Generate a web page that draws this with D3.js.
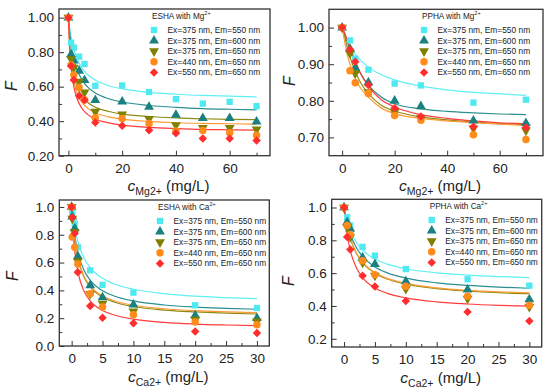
<!DOCTYPE html>
<html>
<head>
<meta charset="utf-8">
<script src="https://cdn.jsdelivr.net/npm/d3@7"></script>
<style>
  body { margin: 0; background: #fff; }
  svg { display: block; font-family: "Liberation Sans", Arial, sans-serif; }
  .tick text { font-size: 13.5px; fill: #222; }
</style>
</head>
<body>
<svg width="550" height="392"></svg>
<script>
// legend entries, same for all four panels
var seriesNames = ['Ex=375 nm, Em=550 nm', 'Ex=375 nm, Em=600 nm', 'Ex=375 nm, Em=650 nm',
                   'Ex=440 nm, Em=650 nm', 'Ex=550 nm, Em=650 nm'];

// ESHA with Mg2+
var esMgX = [0, 1, 2, 4, 6, 10, 20, 30, 40, 50, 60, 70];
var esMgF = [
  [1.00, 0.855, 0.826, 0.774, 0.731, 0.605, 0.607, 0.569, 0.528, 0.502, 0.512, 0.487],
  [1.00, 0.787, 0.750, 0.692, 0.638, 0.522, 0.513, 0.482, 0.436, 0.417, 0.417, 0.397],
  [1.00, 0.760, 0.710, 0.630, 0.567, 0.455, 0.440, 0.413, 0.378, 0.362, 0.362, 0.352],
  [1.00, 0.725, 0.667, 0.595, 0.524, 0.420, 0.416, 0.387, 0.343, 0.346, 0.333, 0.319],
  [1.00, 0.720, 0.638, 0.547, 0.522, 0.393, 0.373, 0.348, 0.330, 0.300, 0.300, 0.288]
];
var esMgFitX = [0, 0.5, 1, 2, 3, 5, 7, 10, 15, 20, 30, 40, 50, 60, 70];
var esMgFit = [
  [1, 0.936, 0.887, 0.817, 0.770, 0.709, 0.672, 0.638, 0.605, 0.587, 0.567, 0.556, 0.549, 0.545, 0.541],
  [1, 0.913, 0.850, 0.764, 0.708, 0.640, 0.600, 0.563, 0.530, 0.511, 0.491, 0.480, 0.473, 0.469, 0.466],
  [1, 0.860, 0.773, 0.670, 0.611, 0.546, 0.511, 0.481, 0.456, 0.441, 0.427, 0.419, 0.414, 0.411, 0.409],
  [1, 0.837, 0.740, 0.633, 0.573, 0.510, 0.477, 0.449, 0.425, 0.412, 0.399, 0.391, 0.387, 0.385, 0.383],
  [1, 0.818, 0.715, 0.601, 0.540, 0.475, 0.441, 0.413, 0.390, 0.377, 0.364, 0.357, 0.352, 0.350, 0.348]
];

// PPHA with Mg2+
var ppMgX = [0, 3, 5, 10, 20, 30, 50, 70];
var ppMgF = [
  [1.00, 0.965, 0.915, 0.885, 0.847, 0.842, 0.795, 0.803],
  [1.00, 0.942, 0.890, 0.850, 0.800, 0.785, 0.746, 0.739],
  [1.00, 0.930, 0.875, 0.824, 0.770, 0.753, 0.725, 0.719],
  [1.00, 0.882, 0.849, 0.820, 0.760, 0.747, 0.707, 0.694],
  [1.00, 0.940, 0.907, 0.843, 0.780, 0.757, 0.729, 0.727]
];
var ppMgFitX = [0, 0.5, 1, 2, 3, 5, 7, 10, 15, 20, 30, 40, 50, 60, 70];
var ppMgFit = [
  [1, 0.990, 0.980, 0.963, 0.949, 0.927, 0.911, 0.892, 0.871, 0.857, 0.840, 0.830, 0.823, 0.819, 0.815],
  [1, 0.990, 0.980, 0.960, 0.940, 0.905, 0.875, 0.843, 0.810, 0.792, 0.778, 0.771, 0.767, 0.764, 0.762],
  [1, 0.988, 0.975, 0.945, 0.920, 0.880, 0.850, 0.820, 0.787, 0.772, 0.756, 0.748, 0.742, 0.738, 0.735],
  [1, 0.980, 0.960, 0.925, 0.900, 0.860, 0.835, 0.810, 0.780, 0.765, 0.752, 0.745, 0.740, 0.736, 0.733],
  [1, 0.993, 0.985, 0.965, 0.945, 0.910, 0.875, 0.840, 0.802, 0.783, 0.762, 0.752, 0.745, 0.740, 0.737]
];

// ESHA with Ca2+
var esCaX = [0, 0.1, 0.5, 1, 3, 5, 10, 20, 30];
var esCaF = [
  [1.00, 0.960, 0.880, 0.710, 0.544, 0.440, 0.384, 0.293, 0.273],
  [1.00, 0.930, 0.845, 0.645, 0.436, 0.350, 0.297, 0.220, 0.200],
  [1.00, 0.916, 0.820, 0.610, 0.376, 0.305, 0.250, 0.190, 0.178],
  [1.00, 0.784, 0.710, 0.590, 0.376, 0.280, 0.225, 0.173, 0.153],
  [1.00, 0.925, 0.810, 0.530, 0.288, 0.204, 0.163, 0.105, 0.093]
];
var caFitX = [0, 0.25, 0.5, 1, 2, 3, 5, 7, 10, 15, 20, 25, 30];
var esCaFit = [
  [1, 0.915, 0.849, 0.752, 0.633, 0.564, 0.487, 0.444, 0.408, 0.376, 0.358, 0.348, 0.340],
  [1, 0.882, 0.796, 0.678, 0.545, 0.474, 0.397, 0.358, 0.324, 0.295, 0.280, 0.271, 0.264],
  [1, 0.860, 0.761, 0.633, 0.496, 0.425, 0.352, 0.315, 0.284, 0.258, 0.245, 0.236, 0.230],
  [1, 0.862, 0.765, 0.637, 0.502, 0.433, 0.360, 0.324, 0.293, 0.268, 0.254, 0.246, 0.240],
  [1, 0.810, 0.688, 0.539, 0.395, 0.325, 0.256, 0.221, 0.193, 0.170, 0.158, 0.151, 0.146]
];

// PPHA with Ca2+
var ppCaX = [0, 0.5, 1, 3, 5, 10, 20, 30];
var ppCaF = [
  [1.00, 0.940, 0.890, 0.760, 0.707, 0.625, 0.563, 0.524],
  [1.00, 0.910, 0.870, 0.695, 0.655, 0.550, 0.500, 0.440],
  [1.00, 0.880, 0.820, 0.665, 0.585, 0.505, 0.445, 0.395],
  [1.00, 0.890, 0.835, 0.675, 0.590, 0.520, 0.460, 0.405],
  [1.00, 0.820, 0.744, 0.584, 0.518, 0.430, 0.364, 0.309]
];
var ppCaFit = [
  [1, 0.955, 0.919, 0.862, 0.787, 0.741, 0.686, 0.655, 0.627, 0.602, 0.588, 0.579, 0.573],
  [1, 0.949, 0.906, 0.840, 0.755, 0.702, 0.638, 0.602, 0.570, 0.541, 0.525, 0.515, 0.508],
  [1, 0.938, 0.888, 0.813, 0.720, 0.664, 0.600, 0.564, 0.533, 0.506, 0.491, 0.481, 0.475],
  [1, 0.938, 0.889, 0.815, 0.723, 0.667, 0.604, 0.568, 0.538, 0.510, 0.495, 0.486, 0.480],
  [1, 0.906, 0.837, 0.740, 0.633, 0.573, 0.510, 0.477, 0.449, 0.425, 0.412, 0.404, 0.399]
];

// tick values
var mgXMajor = [0, 20, 40, 60], mgXMinor = [10, 30, 50, 70];
var caXMajor = [0, 5, 10, 15, 20, 25, 30], caXMinor = [2.5, 7.5, 12.5, 17.5, 22.5, 27.5];
var esMgYMajor = [0.2, 0.4, 0.6, 0.8, 1.0], esMgYMinor = [0.3, 0.5, 0.7, 0.9];
var ppMgYMajor = [0.7, 0.8, 0.9, 1.0], ppMgYMinor = [0.75, 0.85, 0.95];
var esCaYMajor = [0, 0.2, 0.4, 0.6, 0.8, 1.0], esCaYMinor = [0.1, 0.3, 0.5, 0.7, 0.9];
var ppCaYMajor = [0.2, 0.4, 0.6, 0.8, 1.0], ppCaYMinor = [0.3, 0.5, 0.7, 0.9];

var markColors = ['#4fe9f2', '#1b8080', '#808000', '#ff8c1a', '#ff2d2d'];
var lineColors = ['#5ef0f5', '#2a8f8f', '#8c8c14', '#ff9933', '#ff3b3b'];

var svg = d3.select('svg');

var shapes = [
  {type: d3.symbolSquare, size: 40, rot: 0},
  {type: d3.symbolTriangle, size: 42, rot: 0},
  {type: d3.symbolTriangle, size: 42, rot: 180},
  {type: d3.symbolCircle, size: 44, rot: 0},
  {type: d3.symbolSquare, size: 36, rot: 45}
];

function marker(g, i, cx, cy) {
  g.append('path')
    .attr('d', d3.symbol().type(shapes[i].type).size(shapes[i].size)())
    .attr('transform', `translate(${cx},${cy}) rotate(${shapes[i].rot})`)
    .attr('fill', markColors[i]);
}

var panels = [
  {box: [59, 9, 270, 155.7], xDom: [-3.5, 75], yDom: [0.2, 1.05], xMaj: mgXMajor, xMin: mgXMinor,
   yMaj: esMgYMajor, yMin: esMgYMinor, fmt: '.2f', xs: esMgX, F: esMgF, fitX: esMgFitX, fit: esMgFit,
   name: 'ESHA with Mg', ion: 'Mg2+', leg: [154, 30], fPos: [11, 86]},
  {box: [329, 9.3, 543, 155.7], xDom: [-5, 76.5], yDom: [0.65, 1.05], xMaj: mgXMajor, xMin: mgXMinor,
   yMaj: ppMgYMajor, yMin: ppMgYMinor, fmt: '.2f', xs: ppMgX, F: ppMgF, fitX: ppMgFitX, fit: ppMgFit,
   name: 'PPHA with Mg', ion: 'Mg2+', leg: [424, 30], fPos: [289, 81]},
  {box: [59.3, 200, 269.3, 346], xDom: [-2, 32], yDom: [0, 1.05], xMaj: caXMajor, xMin: caXMinor,
   yMaj: esCaYMajor, yMin: esCaYMinor, fmt: '.1f', xs: esCaX, F: esCaF, fitX: caFitX, fit: esCaFit,
   name: 'ESHA with Ca', ion: 'Ca2+', leg: [160, 221], fPos: [12.5, 276]},
  {box: [331.7, 199.3, 541.7, 347], xDom: [-2, 32], yDom: [0.15, 1.05], xMaj: caXMajor, xMin: caXMinor,
   yMaj: ppCaYMajor, yMin: ppCaYMinor, fmt: '.1f', xs: ppCaX, F: ppCaF, fitX: caFitX, fit: ppCaFit,
   name: 'PPHA with Ca', ion: 'Ca2+', leg: [431.7, 220], fPos: [288, 281]}
];

panels.forEach(function (p, pi) {
  var l = p.box[0], t = p.box[1], r = p.box[2], b = p.box[3];
  var x = d3.scaleLinear().domain(p.xDom).range([l, r]);
  var y = d3.scaleLinear().domain(p.yDom).range([b, t]);
  var g = svg.append('g');

  g.append('clipPath').attr('id', 'clip' + pi)
    .append('rect').attr('x', l).attr('y', t).attr('width', r - l).attr('height', b - t);

  // axes, ticks pointing inward
  g.append('g').attr('transform', `translate(0,${b})`)
    .call(d3.axisBottom(x).tickValues(p.xMaj).tickSize(-5).tickSizeOuter(0).tickPadding(7.5).tickFormat(d3.format('d')));
  g.append('g').attr('transform', `translate(0,${b})`)
    .call(d3.axisBottom(x).tickValues(p.xMin).tickSize(-3).tickSizeOuter(0).tickFormat(''));
  g.append('g').attr('transform', `translate(${l},0)`)
    .call(d3.axisLeft(y).tickValues(p.yMaj).tickSize(-5).tickSizeOuter(0).tickPadding(5).tickFormat(d3.format(p.fmt)));
  g.append('g').attr('transform', `translate(${l},0)`)
    .call(d3.axisLeft(y).tickValues(p.yMin).tickSize(-3).tickSizeOuter(0).tickFormat(''));
  g.selectAll('.domain').remove();
  g.selectAll('.tick line').attr('stroke', '#333').attr('stroke-width', 1);

  g.append('rect').attr('x', l).attr('y', t).attr('width', r - l).attr('height', b - t)
    .attr('fill', 'none').attr('stroke', '#333').attr('stroke-width', 1.3);

  // fitted curves
  var line = d3.line().x(d => x(d[0])).y(d => y(d[1])).curve(d3.curveMonotoneX);
  p.fit.forEach(function (vals, i) {
    g.append('path')
      .attr('d', line(p.fitX.map((v, k) => [v, vals[k]])))
      .attr('fill', 'none').attr('stroke', lineColors[i]).attr('stroke-width', 1.2)
      .attr('clip-path', `url(#clip${pi})`);
  });

  // measured points
  p.F.forEach(function (vals, i) {
    vals.forEach(function (v, k) { marker(g, i, x(p.xs[k]), y(v)); });
  });

  // legend
  var lx = p.leg[0], ly = p.leg[1];
  var tt = g.append('text').attr('x', lx - 2).attr('y', ly - 11.5)
    .attr('font-size', 8.2).attr('fill', '#222').text(p.name);
  tt.append('tspan').attr('font-size', 5.5).attr('dy', -3.5).text('2+');
  seriesNames.forEach(function (s, i) {
    var cy = ly + i * 10.6;
    marker(g, i, lx, cy);
    g.append('text').attr('x', lx + 13.5).attr('y', cy + 3)
      .attr('font-size', 8.4).attr('fill', '#222').text(s);
  });

  // axis titles
  var xt = g.append('text').attr('x', (l + r) / 2 + 4).attr('y', b + 35.5)
    .attr('text-anchor', 'middle').attr('fill', '#222');
  xt.append('tspan').attr('font-style', 'italic').attr('font-size', 15.5).text('c');
  xt.append('tspan').attr('font-size', 10.5).attr('dy', 4).text(p.ion);
  xt.append('tspan').attr('font-size', 15).attr('dy', -4).text('\u00a0(mg/L)');

  g.append('text')
    .attr('transform', `translate(${p.fPos[0]},${p.fPos[1]}) rotate(-90)`)
    .attr('text-anchor', 'middle').attr('dy', '0.35em')
    .attr('font-style', 'italic').attr('font-size', 16).attr('fill', '#222').text('F');
});
</script>
</body>
</html>
